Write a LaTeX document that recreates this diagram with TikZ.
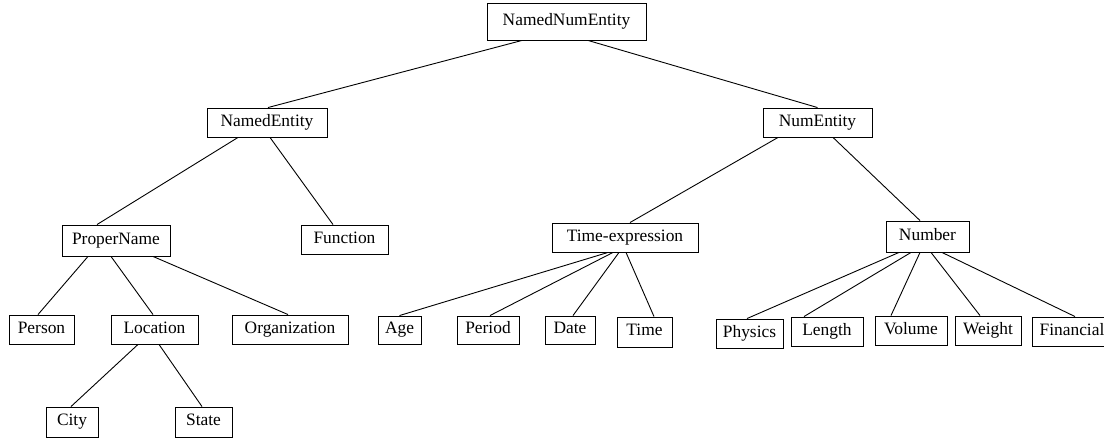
\documentclass[tikz,border=0pt]{standalone}
\usepackage{fontspec}
\setmainfont{Liberation Serif}
\tikzset{
  tbox/.style={draw, line width=0.9pt, inner sep=0pt, minimum height=29pt,
    text height=12pt, text depth=4pt},
  tline/.style={line width=0.9pt}
}
\begin{document}
\begin{tikzpicture}[x=1pt,y=-1pt]
\clip (0,0) rectangle (1104,438);
{\fontsize{17.4}{20}\selectfont

% Drawing top levels
\node[tbox, minimum width=159pt, minimum height=37pt] (nne) at (566.5,21.5) {NamedNumEntity};
\node[tbox, minimum width=120pt] (ne) at (267,122.5) {NamedEntity};
\node[tbox, minimum width=109pt] (nue) at (817.5,122.5) {NumEntity};

% Drawing second level
\node[tbox, minimum width=108pt, minimum height=31pt] (pn) at (116,240.5) {ProperName};
\node[tbox, minimum width=87pt] (fn) at (344.5,239.5) {Function};
\node[tbox, minimum width=146pt] (te) at (625,237.5) {Time-expression};
\node[tbox, minimum width=83pt, minimum height=31pt] (nb) at (927.5,236.5) {Number};

% Drawing leaves
\node[tbox, minimum width=65pt] (per) at (41.5,329.5) {Person};
\node[tbox, minimum width=87pt] (loc) at (154.5,329.5) {Location};
\node[tbox, minimum width=116pt] (org) at (290,329.5) {Organization};
\node[tbox, minimum width=52pt, minimum height=30pt] (city) at (72,422) {City};
\node[tbox, minimum width=57pt, minimum height=30pt] (state) at (203.5,422) {State};
\node[tbox, minimum width=43pt, minimum height=28pt] (age) at (399.5,330) {Age};
\node[tbox, minimum width=62pt, minimum height=28pt] (prd) at (488,330) {Period};
\node[tbox, minimum width=50pt, minimum height=28pt] (date) at (570,330) {Date};
\node[tbox, minimum width=55pt, minimum height=30pt] (time) at (644.5,332) {Time};
\node[tbox, minimum width=67pt] (phy) at (749.5,333.5) {Physics};
\node[tbox, minimum width=72pt] (len) at (827,331.5) {Length};
\node[tbox, minimum width=72pt] (vol) at (911,330.5) {Volume};
\node[tbox, minimum width=66pt] (wgt) at (988,330.5) {Weight};
\node[tbox, minimum width=80pt] (fin) at (1072,331.5) {Financial};

% Drawing edges
\draw[tline] ([xshift=-44.5pt]nne.south) -- ([xshift=1pt]ne.north);
\draw[tline] ([xshift=21.5pt]nne.south) -- (nue.north);
\draw[tline] ([xshift=-29pt]ne.south) -- ([xshift=-19pt]pn.north);
\draw[tline] ([xshift=3pt]ne.south) -- ([xshift=-11.5pt]fn.north);
\draw[tline] ([xshift=-39.5pt]nue.south) -- ([xshift=5pt]te.north);
\draw[tline] ([xshift=15.5pt]nue.south) -- ([xshift=-7.5pt]nb.north);
\draw[tline] ([xshift=-28pt]pn.south) -- ([xshift=-3.5pt]per.north);
\draw[tline] ([xshift=-5pt]pn.south) -- ([xshift=-1.5pt]loc.north);
\draw[tline] ([xshift=37pt]pn.south) -- ([xshift=-2pt]org.north);
\draw[tline] ([xshift=-16.5pt]loc.south) -- ([xshift=-1pt]city.north);
\draw[tline] ([xshift=4.5pt]loc.south) -- ([xshift=-1.5pt]state.north);
\draw[tline] ([xshift=-17pt]te.south) -- (age.north);
\draw[tline] ([xshift=-12pt]te.south) -- ([xshift=2pt]prd.north);
\draw[tline] ([xshift=-6pt]te.south) -- ([xshift=3pt]date.north);
\draw[tline] ([xshift=1pt]te.south) -- ([xshift=9.5pt]time.north);
\draw[tline] ([xshift=-28.5pt]nb.south) -- ([xshift=-2.5pt]phy.north);
\draw[tline] ([xshift=-16.5pt]nb.south) -- ([xshift=-23pt]len.north);
\draw[tline] ([xshift=-7.5pt]nb.south) -- ([xshift=-20pt]vol.north);
\draw[tline] ([xshift=3.5pt]nb.south) -- ([xshift=-8pt]wgt.north);
\draw[tline] ([xshift=14.5pt]nb.south) -- ([xshift=3pt]fin.north);
}
\end{tikzpicture}
\end{document}
